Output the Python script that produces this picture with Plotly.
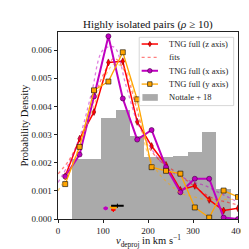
import plotly.graph_objects as go

# ---------------- data ----------------
v_centers = [16, 48, 80, 112, 144, 176, 208, 240, 272, 304, 336, 368, 400]
tng_z = [0.00152, 0.00285, 0.00380, 0.00556, 0.00560, 0.00345, 0.00259,
         0.00192, 0.00103, 0.00118, 0.00068, 0.00030, 0.00038]
tng_x = [0.00151, 0.00229, 0.00435, 0.00649, 0.00428, 0.00282, 0.00316,
         0.00184, 0.00095, 0.00143, 0.00143, 0.00005, 0.00000]
tng_y = [0.00124, 0.00256, 0.00457, 0.00488, 0.00592, 0.00425, 0.00184,
         0.00171, 0.00161, 0.00041, 0.00005, 0.00101, 0.00078]

hist_left = [32, 64, 96, 128, 160, 192, 224, 256, 288, 320, 352]
hist_width = 32
hist_heights = [0.00212, 0.00212, 0.00357, 0.00387, 0.00296, 0.00219,
                0.00221, 0.00223, 0.00238, 0.00310, 0.00107]

fit_v = [0, 25, 50, 75, 100, 125, 150, 175, 200, 225, 250, 275, 300, 325, 350, 375, 400]
fit_z = [0.0016, 0.0021, 0.0029, 0.0040, 0.0051, 0.0057, 0.0052, 0.0039, 0.0026,
         0.0021, 0.0018, 0.0015, 0.0012, 0.0009, 0.0007, 0.0006, 0.0005]
fit_x = [0.0013, 0.0020, 0.0030, 0.0045, 0.0060, 0.0061, 0.0048, 0.0035, 0.0027,
         0.0021, 0.0017, 0.0015, 0.0013, 0.0012, 0.0010, 0.0008, 0.0006]
fit_y = [0.0010, 0.0017, 0.0027, 0.0038, 0.0049, 0.0055, 0.0053, 0.0040, 0.0023,
         0.0016, 0.0012, 0.0009, 0.0008, 0.0007, 0.0007, 0.0007, 0.0007]

# mean velocities with spreads (small markers near the bottom)
mean_names = ["x", "z", "y", "Nottale"]
mean_v = [106, 123, 124, 132]
mean_err = [5, 5, 9, 14]
mean_p = [0.00038, 0.00033, 0.00042, 0.00047]

x_ticks = [0, 100, 200, 300, 400]
y_ticks = [0.000, 0.001, 0.002, 0.003, 0.004, 0.005, 0.006]

RED = "#ff0000"
MAG = "#bf00bf"
ORA = "#ffa500"
GRAY = "#aaaaaa"
FONT = "Liberation Serif"

fig = go.Figure()

# histogram (Nottale + 18)
fig.add_trace(go.Bar(x=[l + hist_width / 2 for l in hist_left], y=hist_heights,
                     width=hist_width, marker=dict(color=GRAY, line=dict(width=0)),
                     showlegend=False, name="Nottale + 18"))

# TNG z + fit
fig.add_trace(go.Scatter(x=v_centers, y=tng_z, mode="lines+markers",
                         line=dict(color=RED, width=1.5),
                         marker=dict(symbol="diamond-tall", size=5, color=RED,
                                     line=dict(color="#800000", width=0.6)),
                         showlegend=False, name="TNG full (z axis)"))
fig.add_trace(go.Scatter(x=fit_v, y=fit_z, mode="lines", line_shape="spline",
                         line=dict(color="rgba(255,0,0,0.5)", width=1.3, dash="dot"),
                         showlegend=False, name="fits"))
# TNG x + fit
fig.add_trace(go.Scatter(x=v_centers, y=tng_x, mode="lines+markers",
                         line=dict(color=MAG, width=2),
                         marker=dict(symbol="circle", size=5, color=MAG,
                                     line=dict(color="#400040", width=0.6)),
                         showlegend=False, name="TNG full (x axis)"))
fig.add_trace(go.Scatter(x=fit_v, y=fit_x, mode="lines", line_shape="spline",
                         line=dict(color="rgba(191,0,191,0.5)", width=1.3, dash="dot"),
                         showlegend=False))
# TNG y + fit
fig.add_trace(go.Scatter(x=v_centers, y=tng_y, mode="lines+markers",
                         line=dict(color=ORA, width=1.3),
                         marker=dict(symbol="square", size=5, color=ORA,
                                     line=dict(color="#000000", width=0.6)),
                         showlegend=False, name="TNG full (y axis)"))
fig.add_trace(go.Scatter(x=fit_v, y=fit_y, mode="lines", line_shape="spline",
                         line=dict(color="rgba(255,165,0,0.5)", width=1.3, dash="dot"),
                         showlegend=False))

# mean markers
mean_cols = [MAG, RED, ORA, "#000000"]
mean_sym = ["circle", "diamond-tall", "square", "line-ns"]
for i in range(len(mean_v)):
    fig.add_trace(go.Scatter(x=[mean_v[i]], y=[mean_p[i]], mode="markers",
                             marker=dict(symbol=mean_sym[i], size=3, color=mean_cols[i],
                                         line=dict(color=mean_cols[i], width=1)),
                             error_x=dict(type="constant", value=mean_err[i],
                                          color=mean_cols[i], thickness=2, width=0),
                             showlegend=False))

# -------------- layout -----------------
L, R, T, B = 49.7, 236.5, 24.0, 210.7
W = H = 249


def px(xpix):
    return (xpix - L) / (R - L)


def py(ypix):
    return (B - ypix) / (B - T)


shapes = []
annotations = []
# manual legend
shapes.append(dict(type="rect", xref="paper", yref="paper",
                   x0=px(134), x1=px(232), y0=py(97.5), y1=py(29.3),
                   fillcolor="rgba(255,255,255,0.8)", line=dict(color="#cccccc", width=0.8)))
entries = [("TNG full (z axis)", 36.0), ("fits", 49.3), ("TNG full (x axis)", 62.7),
           ("TNG full (y axis)", 76.0), ("Nottale + 18", 89.3)]
hx0, hx1, hxc = 136.5, 153.5, 145.0
# z
shapes.append(dict(type="line", xref="paper", yref="paper", x0=px(hx0), x1=px(hx1),
                   y0=py(36.0), y1=py(36.0), line=dict(color=RED, width=1.5)))
shapes.append(dict(type="path", xref="paper", yref="paper",
                   path="M {a},{b} L {c},{d} L {a},{e} L {f},{d} Z".format(
                       a=px(hxc), b=py(33.3), c=px(hxc + 1.7), d=py(36.0), e=py(38.7), f=px(hxc - 1.7)),
                   fillcolor=RED, line=dict(color="#800000", width=0.6)))
# fits
shapes.append(dict(type="line", xref="paper", yref="paper", x0=px(hx0), x1=px(hx1),
                   y0=py(49.3), y1=py(49.3), line=dict(color="rgba(255,0,0,0.5)", width=1.3, dash="dot")))
# x
shapes.append(dict(type="line", xref="paper", yref="paper", x0=px(hx0), x1=px(hx1),
                   y0=py(62.7), y1=py(62.7), line=dict(color=MAG, width=2)))
shapes.append(dict(type="circle", xref="paper", yref="paper", x0=px(hxc - 2.3), x1=px(hxc + 2.3),
                   y0=py(65.0), y1=py(60.4), fillcolor=MAG, line=dict(color="#400040", width=0.6)))
# y
shapes.append(dict(type="line", xref="paper", yref="paper", x0=px(hx0), x1=px(hx1),
                   y0=py(76.0), y1=py(76.0), line=dict(color=ORA, width=1.3)))
shapes.append(dict(type="rect", xref="paper", yref="paper", x0=px(hxc - 2.3), x1=px(hxc + 2.3),
                   y0=py(78.3), y1=py(73.7), fillcolor=ORA, line=dict(color="#000000", width=0.6)))
# nottale
shapes.append(dict(type="rect", xref="paper", yref="paper", x0=px(137.3), x1=px(153.3),
                   y0=py(92.7), y1=py(86.0), fillcolor=GRAY, line=dict(width=0)))
for txt, yy in entries:
    annotations.append(dict(text=txt, xref="paper", yref="paper", x=px(162.5), y=py(yy),
                            xanchor="left", yanchor="middle", showarrow=False,
                            font=dict(family=FONT, size=8.5, color="#222222")))

# titles
annotations.append(dict(text="Highly isolated pairs (<i>ρ</i> ≥ 10)", xref="paper", yref="paper",
                        x=0.5, y=py(16.5), xanchor="center", yanchor="middle", showarrow=False,
                        font=dict(family=FONT, size=11, color="#111111")))
annotations.append(dict(text="<i>v</i><sub>deproj</sub> in km s<sup>−1</sup>", xref="paper", yref="paper",
                        x=0.5, y=py(233.0), xanchor="center", yanchor="middle", showarrow=False,
                        font=dict(family=FONT, size=10.5, color="#111111")))
annotations.append(dict(text="Probability Density", xref="paper", yref="paper",
                        x=px(14.5), y=0.5, xanchor="center", yanchor="middle", showarrow=False,
                        textangle=-90, font=dict(family=FONT, size=10.5, color="#111111")))

fig.update_layout(
    width=W, height=H,
    margin=dict(l=L, r=W - R, t=T, b=H - B, pad=0),
    paper_bgcolor="white", plot_bgcolor="white",
    showlegend=False, bargap=0,
    shapes=shapes, annotations=annotations,
    font=dict(family=FONT, size=9, color="#222222"),
    xaxis=dict(range=[0, 400], tickvals=x_ticks, ticktext=[str(t) for t in x_ticks],
               ticks="outside", ticklen=3.5, tickwidth=0.8, tickcolor="#222222",
               showline=True, linecolor="#222222", linewidth=0.8, mirror=True,
               showgrid=False, zeroline=False, tickfont=dict(family=FONT, size=9)),
    yaxis=dict(range=[0, 0.00664], tickvals=y_ticks, ticktext=["%.3f" % t for t in y_ticks],
               ticks="outside", ticklen=3.5, tickwidth=0.8, tickcolor="#222222",
               showline=True, linecolor="#222222", linewidth=0.8, mirror=True,
               showgrid=False, zeroline=False, tickfont=dict(family=FONT, size=9)),
)

fig.write_html("out.html")
